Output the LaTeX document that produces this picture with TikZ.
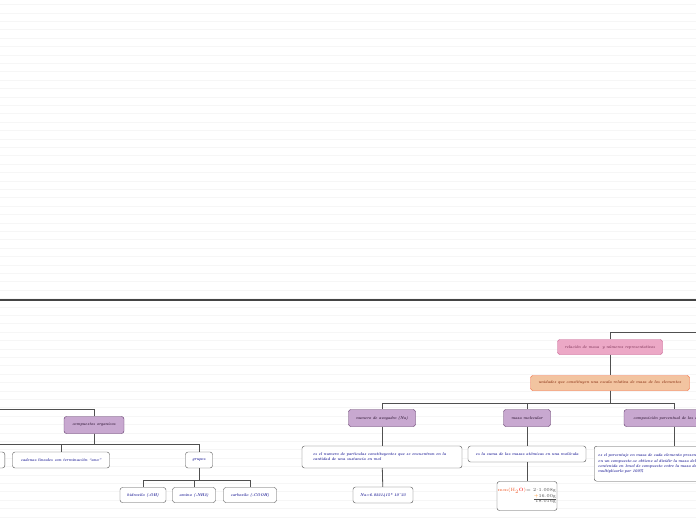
\documentclass[tikz,border=0pt]{standalone}
\usepackage{amsmath}
\usepackage{tikz}
\usetikzlibrary{positioning}
\definecolor{MapLine}{RGB}{80,80,80}
\definecolor{MapRule}{RGB}{246,246,246}
\definecolor{MapPink}{RGB}{236,168,198}
\definecolor{MapPinkDark}{RGB}{196,90,140}
\definecolor{MapOrange}{RGB}{242,196,160}
\definecolor{MapOrangeDark}{RGB}{240,96,48}
\definecolor{MapPurple}{RGB}{200,168,208}
\definecolor{MapPurpleDark}{RGB}{90,50,100}
\definecolor{MapBlue}{RGB}{30,30,150}
\newcommand{\mapfont}{\fontsize{4}{5.2}\selectfont\bfseries\itshape}

\begin{document}
\begin{tikzpicture}[x=1pt, y=-1pt,
    link/.style={draw=MapLine, line width=0.8pt},
    topic/.style={draw=MapPinkDark, fill=MapPink, rounded corners=2.5pt, font=\mapfont, text=MapPinkDark!70!black, minimum height=15pt, inner sep=1pt},
    unit/.style={draw=MapOrangeDark, fill=MapOrange, rounded corners=2.5pt, font=\mapfont, text=MapOrangeDark!60!black, minimum height=15pt, inner sep=1pt},
    idea/.style={draw=MapPurpleDark, fill=MapPurple, rounded corners=2.5pt, font=\mapfont, text=MapPurpleDark!60!black, minimum height=17pt, inner sep=1pt},
    note/.style={draw=MapLine, fill=white, rounded corners=2.5pt, font=\mapfont, text=MapBlue, minimum height=16pt, inner sep=1pt}]
    \useasboundingbox (0,0) rectangle (696,520);
    \clip (0,0) rectangle (696,520);
    % Lined paper background
    \foreach \y in {4.5,12.9,...,520}
        \draw[MapRule, line width=0.5pt] (0,\y) -- (696,\y);
    \draw[line width=1.5pt, MapLine!85!black] (0,300) -- (696,300);
    % Right branch
    \coordinate (upright) at (720,332);
    \node[topic, minimum width=105pt] (relacion) at (610,347) {relación de masa \ y números representativos};
    \node[unit, minimum width=159pt] (unidades) at (610,383) {unidades que constituyen una escala relativa de masa de los elementos};
    \node[idea, minimum width=67pt] (avogadro) at (382,418) {numero de avogadro (Na)};
    \node[idea, minimum width=47pt] (masamol) at (527,418) {masa molecular};
    \node[idea, minimum width=100pt] (composicion) at (674,418) {composición porcentual de los elementos};
    \node[note, minimum width=160pt, minimum height=22pt, align=left] (defavog) at (382,457) {es el numero de particulas constituyentes que se encuentran en la\\cantidad de una sustancia en mol\hspace{70pt}\null};
    \node[note, minimum width=60pt] (valavog) at (383,495) {Na=6.0221415* 10\^{}23};
    \node[note, minimum width=118pt] (defmasa) at (527,454) {es la suma de las masas atómicas en una molécula};
    \node[note, anchor=north west, minimum height=35pt, text width=180pt, align=left, inner xsep=4pt] (defcomp) at (594,446) {es el porcentaje en masa de cada elemento presente\\en un compuesto.se obtiene al dividir la masa del elemento\\contenida en 1mol de compuesto entre la masa del compuesto y\\multiplicarlo por 100\%};
    \node[note, minimum width=57pt, minimum height=29pt, font=\fontsize{4.6}{5.6}\selectfont, text=MapLine, align=right] (formula) at (527,496)
        {\textcolor{MapOrangeDark}{mm(H$_2$\textcolor{red}{O})}= 2$\cdot$1.008g\\\underline{\textcolor{orange}{+}16.00g}\\18.016g};
    % Left branch
    \coordinate (upleft) at (-30,409);
    \node[idea, minimum width=60pt] (organicos) at (94,425) {compuestos organicos};
    \node[note, anchor=east, minimum width=50pt] (oculto) at (5,460) {};
    \node[note, minimum width=97pt] (cadenas) at (61,460) {cadenas lineales con terminación ``ano''};
    \node[note, minimum width=27pt] (grupos) at (199,460) {grupos};
    \node[note, minimum width=46pt, minimum height=15pt] (hidroxilo) at (143,495) {hidroxilo (-OH)};
    \node[note, minimum width=43pt, minimum height=15pt] (amino) at (194,495) {amino (-NH2)};
    \node[note, minimum width=53pt, minimum height=15pt] (carboxilo) at (250,495) {carboxilo (-COOH)};
    % Draw connectors
    \draw[link] (relacion.north) |- (upright);
    \draw[link] (relacion) -- (unidades);
    \draw[link] (unidades.south) -- (610,403) -| (avogadro.north);
    \draw[link] (unidades.south) -- (610,403) -| (masamol.north);
    \draw[link] (unidades.south) -- (610,403) -| (composicion.north);
    \draw[link] (avogadro) -- (defavog);
    \draw[link] (defavog) -- (valavog);
    \draw[link] (masamol) -- (defmasa);
    \draw[link] (defmasa) -- (formula);
    \draw[link] (composicion.south) -- (composicion.south |- defcomp.north);
    \draw[link] (organicos.north) |- (upleft);
    \draw[link] (organicos.south) -- (94,444) -| (oculto.north);
    \draw[link] (organicos.south) -- (94,444) -| (cadenas.north);
    \draw[link] (organicos.south) -- (94,444) -| (grupos.north);
    \draw[link] (grupos.south) -- (199,480) -| (hidroxilo.north);
    \draw[link] (grupos.south) -- (199,480) -| (amino.north);
    \draw[link] (grupos.south) -- (199,480) -| (carboxilo.north);
\end{tikzpicture}
\end{document}
